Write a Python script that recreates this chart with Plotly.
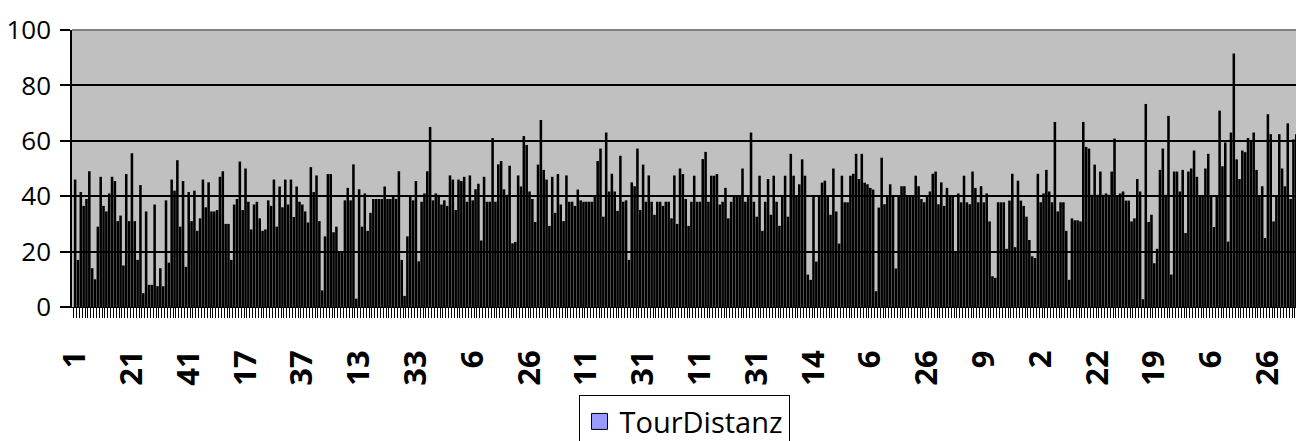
import plotly.graph_objects as go

# Number of stops in each tour; the category label restarts at 1 for every tour
tour_lengths = [44, 44, 47, 35, 40, 37, 28, 37, 27, 23, 33, 36]

# Distance per stop (TourDistanz)
distance = [
    46, 17, 41.5, 36.5, 39, 49, 14, 10, 29, 47, 36.5, 34.5, 41, 47, 45.5, 31, 33, 15, 48, 31,
    55.5, 31, 17, 44, 5, 34.5, 8, 8, 37, 7.5, 14, 7.5, 38.5, 16, 46, 42, 53, 29, 45.5, 14.5,
    41.5, 31, 42,
    27.5, 32, 46, 36, 45, 34.5, 34.5, 35, 47, 49, 30, 30, 17, 37, 39, 52.5, 35, 50, 38, 28,
    37, 38, 32, 27.5, 28, 38.5, 36.5, 46, 29, 43.5, 36, 46, 37, 46, 32.5, 43.5, 38, 37, 34.5,
    30.5, 50.5, 41.5,
    47.5, 31, 6, 25.5, 48, 48, 27, 29, 19.5, 19.5, 38.5, 43, 38.5, 51.5, 3, 42.5, 29, 41,
    27.5, 34, 39, 39, 39, 39, 43.5, 39, 39, 40, 39, 49, 17, 4, 25.5, 40, 38.5, 45.5, 16.5,
    38, 41, 49, 65, 38.5, 41,
    40.5, 37, 38.5, 36.5, 47.5, 46, 35, 46, 45.5, 47, 38, 47.5, 38.5, 42.5, 44.5, 24, 47, 38,
    38, 61, 38, 51.5, 52.7, 42.5, 40.5, 51, 23, 23.5, 47.5, 43.5, 61.7, 58.5, 41.7, 39, 30.7,
    51.4, 67.5, 49.5, 46, 29.3, 47, 34, 48,
    37, 31, 47.5, 38, 38, 36.5, 42.4, 38.5, 38, 38, 38, 38, 39.8, 52.7, 57.2, 32.6, 63, 41.7,
    48.1, 41.7, 34.7, 54.6, 38, 38.5, 17, 45, 43.6, 57.2, 35, 51.4, 38, 47.5, 38, 33.3, 38,
    38, 36.5, 38, 38, 32, 47.5, 30, 50, 48,
    39, 29.3, 38, 47.4, 38, 38, 53.4, 56, 38, 47.4, 47.4, 48, 37, 38, 43, 32, 38, 40, 40, 40,
    50, 38, 40, 63, 38, 32.6, 47.4, 27.5, 38, 46.2, 33.3, 47.4, 38, 29.3, 39.8, 47.4, 32.6,
    55.3, 47.4, 39.8, 44.3, 53.3, 47.4,
    11.7, 9.8, 39.8, 16.4, 39.8, 44.9, 45.6, 39.8, 33.3, 50, 34.5, 22.9, 47.4, 37.8, 37.8,
    47.4, 48.1, 55.3, 46.2, 55.3, 44.9, 44.3, 43, 42.4, 5.7, 35.9, 53.9, 37.1, 39.8, 44.3,
    39.8, 13.9, 39.8, 43.6, 43.6, 39.8, 39.8, 39.8, 47.4, 43.6, 39, 37.8, 39.8,
    41.7, 48.1, 48.9, 37.1, 45, 36.5, 43, 39.8, 39.8, 20, 41, 37.8, 47.4, 37.8, 37.1, 48.9,
    43, 37.8, 43.6, 37.8, 41, 30.9, 11.1, 10.5, 37.8, 37.8, 37.8, 21, 38.4, 48.1, 21.6, 45.6,
    38.4, 36.5, 32.6, 24.2, 18.3, 17.7, 48.1, 37.8, 41, 49.5, 41.7, 37.8,
    66.8, 34.5, 37.8, 37.8, 27.5, 9.8, 32, 31.3, 31.3, 30.9, 66.8, 57.8, 57.2, 40.5, 51.4,
    40.5, 48.9, 40.5, 41, 40.5, 48.9, 60.8, 39.8, 41, 41.7, 38.4, 38.4, 30.9, 32, 46.2, 41.7,
    2.8, 73.3, 30.7, 33.3, 15.8, 21, 49.5, 57.2, 40.5, 69, 11.7, 48.9,
    48.9, 41.7, 49.5, 26.7, 48.9, 50, 56.5, 47, 39.8, 39.8, 50, 55.3, 39.8, 28.9, 39.8, 70.9,
    50.8, 59.4, 23.6, 63, 91.5, 53.3, 46.2, 56.5, 55.9, 61, 59.6, 63, 49.5, 39.8, 43.6, 24.9,
    69.6, 62.4, 30.9, 39.8, 62.4, 50, 43.6, 66.3, 39, 60.5, 62.4,
]

y_ticks = [0, 20, 40, 60, 80, 100]
label_step = 20

# Category labels: stop number within each tour
stop_labels = [str(i) for n in tour_lengths for i in range(1, n + 1)]
positions = list(range(len(distance)))
tick_positions = positions[::label_step]
tick_labels = stop_labels[::label_step]

fig = go.Figure()

fig.add_trace(go.Bar(
    x=positions,
    y=distance,
    customdata=stop_labels,
    marker=dict(color="#000000", line=dict(width=0)),
    showlegend=False,
    hovertemplate="%{customdata}: %{y}<extra></extra>",
))

# Legend entry with the series swatch
fig.add_trace(go.Scatter(
    x=[None], y=[None],
    mode="markers",
    name="TourDistanz",
    marker=dict(symbol="square", size=16, color="#9999FF",
                line=dict(color="black", width=1)),
))

fig.update_layout(
    width=1296,
    height=441,
    margin=dict(l=72, r=0, t=30, b=134, autoexpand=False),
    paper_bgcolor="white",
    plot_bgcolor="#C0C0C0",
    bargap=0.1,
    font=dict(family="Open Sans", color="black"),
    legend=dict(
        orientation="h",
        x=0.5, xanchor="center",
        y=-0.318, yanchor="top",
        bgcolor="white",
        bordercolor="black",
        borderwidth=1,
        font=dict(size=29, family="Open Sans", color="black"),
        itemsizing="trace",
    ),
    xaxis=dict(
        range=[-1.1, 429.9],
        showgrid=False,
        zeroline=False,
        showline=True, linecolor="black", linewidth=1,
        tickmode="array",
        tickvals=tick_positions,
        ticktext=tick_labels,
        tickangle=-90,
        ticks="",
        ticklabelstandoff=30,
        tickfont=dict(size=31, family="Open Sans", color="black", weight="bold"),
        minor=dict(ticks="outside", tickmode="linear", tick0=0.5, dtick=1,
                   ticklen=10, tickcolor="black", tickwidth=1, showgrid=False),
    ),
    yaxis=dict(
        range=[0, 100],
        tickmode="array",
        tickvals=y_ticks,
        showgrid=True, gridcolor="black", gridwidth=1.5,
        zeroline=False,
        showline=True, linecolor="black", linewidth=1.5,
        ticks="outside", ticklen=10, tickcolor="black", tickwidth=1.5,
        ticklabelstandoff=4,
        tickfont=dict(size=26, family="Open Sans", color="black"),
    ),
    shapes=[dict(type="line", xref="paper", yref="paper", x0=0, x1=1, y0=1, y1=1,
                 line=dict(color="#808080", width=2), layer="above")],
)

fig.write_html("out.html")
